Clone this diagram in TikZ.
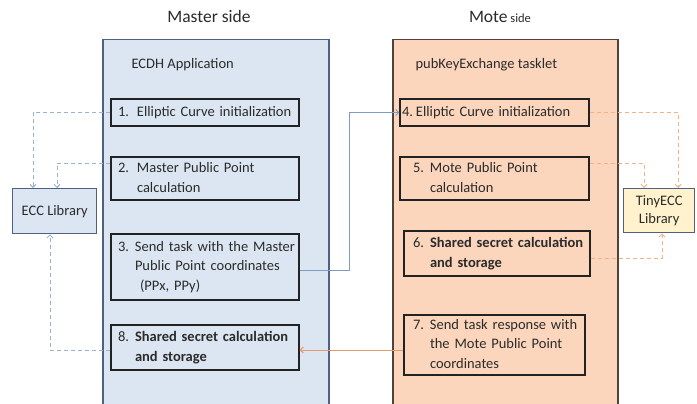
\documentclass[tikz,border=0pt]{standalone}
\usepackage{fontspec}
\setmainfont{Carlito}
\usetikzlibrary{arrows.meta}
\definecolor{mfill}{HTML}{DCE6F2}
\definecolor{mline}{HTML}{4E6185}
\definecolor{tfill}{HTML}{FBD6BC}
\definecolor{tline}{HTML}{54423A}
\definecolor{yfill}{HTML}{FFF2CC}
\definecolor{bline}{HTML}{222222}
\definecolor{dblue}{HTML}{9BB2D0}
\definecolor{dorange}{HTML}{F2B38A}
\definecolor{sblue}{HTML}{7F9CC0}
\definecolor{sorange}{HTML}{E59A6E}
\definecolor{ink}{HTML}{2B2B2B}
\newcommand{\stp}[3]{\makebox[#1][l]{#2}\begin{tabular}[t]{@{}l@{}}#3\end{tabular}}
\begin{document}
\begin{tikzpicture}[x=1pt,y=-1pt,
  txt/.style={font=\fontsize{14.5}{19.5}\selectfont, text=ink},
  container/.style={draw, line width=1.5pt, anchor=north west, minimum width=#1, minimum height=380, inner sep=0},
  stepbox/.style={draw=bline, line width=1.4pt, txt, align=left, inner xsep=0, inner ysep=0},
  lib/.style={draw=mline, line width=1.4pt, txt, align=center, inner sep=0, anchor=north west},
  dashb/.style={draw=dblue, line width=0.9pt, dash pattern=on 4pt off 3pt, -{Straight Barb[length=3pt,width=6pt]}},
  dasho/.style={draw=dorange, line width=0.9pt, dash pattern=on 4pt off 3pt, -{Straight Barb[length=3pt,width=6pt]}},
  ttl/.style={font=\fontsize{17.5}{20}\selectfont, text=ink, anchor=base}
]
\useasboundingbox (0,0) rectangle (697,404);
\fill[white] (0,0) rectangle (697,404);
\begin{scope}
\clip (0,0) rectangle (697,404);
\node[container=226, draw=mline, fill=mfill] (master) at (102,39) {};
\node[container=225, draw=tline, fill=tfill] (mote) at (392,39) {};
\end{scope}

\node[ttl] (mtitle) at (209,23) {Master side};
\node[ttl] (ttitle) at (500,23) {Mote{\fontsize{12.5}{14}\selectfont\ side}};
\node[txt, anchor=base west] (app) at (128,69) {ECDH Application};
\node[txt, anchor=base west] (task) at (412,69) {pubKeyExchange tasklet};

% master steps
\node[stepbox, minimum width=188, minimum height=27, text width=174] (b1) at (205,112.5)
  {\stp{19pt}{1.}{Elliptic Curve initialization}};
\node[stepbox, minimum width=188, minimum height=43, text width=174] (b2) at (205,178.5)
  {\stp{19pt}{2.}{Master Public Point\\calculation}};
\node[stepbox, minimum width=188, minimum height=66, text width=174] (b3) at (205,267)
  {\stp{17pt}{3.}{Send task with the Master\\ Public Point coordinates\\\hspace{5pt}(PPx, PPy)}};
\node[stepbox, minimum width=188, minimum height=45, text width=174] (b8) at (205,347.5)
  {\stp{17pt}{8.}{\bfseries Shared secret calculation\\\bfseries and storage}};

% mote steps
\node[stepbox, minimum width=189, minimum height=27, text width=185] (b4) at (494.5,112.5)
  {\stp{14pt}{4.}{Elliptic Curve initialization}};
\node[stepbox, minimum width=189, minimum height=43, text width=163] (b5) at (494.5,178.5)
  {\stp{17pt}{5.}{Mote Public Point\\calculation}};
\node[stepbox, minimum width=186, minimum height=45, text width=168] (b6) at (497,253.5)
  {\stp{17pt}{6.}{\bfseries Shared secret calculation\\\bfseries and storage}};
\node[stepbox, minimum width=181, minimum height=60, text width=163] (b7) at (494.5,345)
  {\stp{17pt}{7.}{Send task response with\\the Mote Public Point\\coordinates}};

% libraries
\node[lib, fill=mfill, minimum width=84, minimum height=45] (ecc) at (12,188) {ECC Library};
\node[lib, fill=yfill, minimum width=71, minimum height=44, font=\fontsize{14.5}{18}\selectfont] (tiny) at (623,188) {TinyECC\\Library};

% master <-> ECC library
\draw[dashb] (b1.west) -| ([xshift=21pt]ecc.north west);
\draw[dashb] ([yshift=15.5pt]b2.west) -| ([xshift=45pt]ecc.north west);
\draw[dashb] ([yshift=-2.5pt]b8.west) -| ([xshift=38pt]ecc.south west);

% mote <-> TinyECC
\draw[dasho] (b4.east) -| ([xshift=55pt]tiny.north west);
\draw[dasho] ([yshift=15.5pt]b5.east) -| ([xshift=21pt]tiny.north west);
\draw[dasho] ([yshift=-4.5pt]b6.east) -| ([xshift=39pt]tiny.south west);

% exchange
\draw[draw=sblue, line width=0.9pt, -{Straight Barb[length=3pt,width=6pt]}]
  ([yshift=-3pt]b3.east) -- ++(50,0) |- (b4.west);
\draw[draw=sorange, line width=1pt, -{Straight Barb[length=3pt,width=6pt]}]
  ([yshift=-5pt]b7.west) -- ([yshift=-2.5pt]b8.east);
\end{tikzpicture}
\end{document}
